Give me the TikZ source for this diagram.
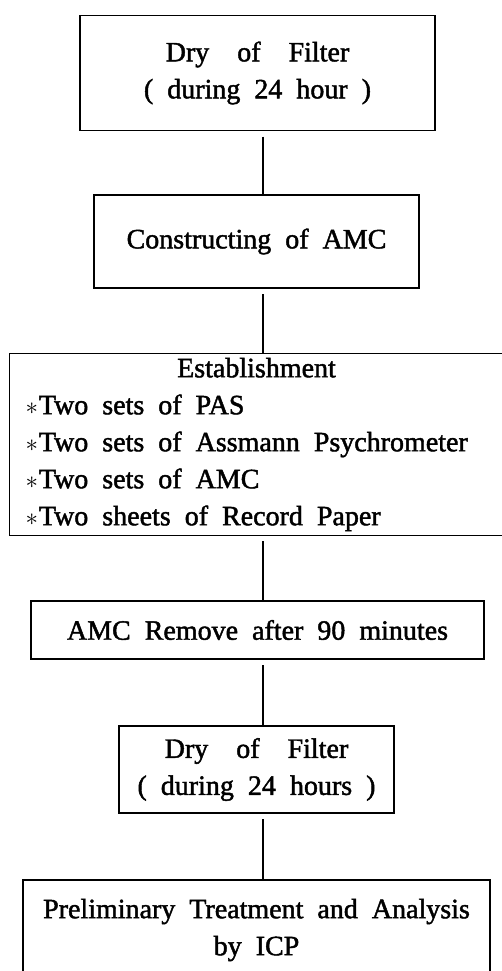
\documentclass[tikz,border=0pt]{standalone}
\usepackage{fontspec}
\setmainfont{Liberation Serif}[WordSpace=2,FakeBold=1.6]
\newcommand{\starmark}{{\fontsize{24}{37}\selectfont$\ast$}\kern1pt}

\begin{document}
\begin{tikzpicture}[x=1pt,y=-1pt]
    \tikzstyle{box_style} = [draw=black,line width=1.3pt,inner sep=0pt,align=center,font=\fontsize{28}{37}\selectfont]
    \tikzstyle{edge_style} = [draw=black,line width=1.8pt,shorten <=5.5pt]
        \useasboundingbox (0,0) rectangle (501,971);
        \coordinate (spine) at (263,0);
        \node[box_style,minimum width=355pt,minimum height=115pt] (dry1) at (257.5,73) {Dry\quad of\quad Filter\\( during 24 hour )};
        \node[box_style,minimum width=325pt,minimum height=93pt] (amc) at (256.5,241.5) {Constructing of AMC};
        \node[box_style,align=flush left,text width=462pt,inner xsep=16pt,inner ysep=4pt] (est) at (256.5,444.5) {\makebox[\linewidth]{Establishment}\\
            \starmark Two sets of PAS\\
            \starmark Two sets of Assmann Psychrometer\\
            \starmark Two sets of AMC\\
            \starmark Two sheets of Record Paper};
        \node[box_style,minimum width=453pt,minimum height=58pt] (remove) at (257.5,630) {AMC Remove after 90 minutes};
        \node[box_style,minimum width=275pt,minimum height=87pt] (dry2) at (256.5,769.5) {Dry\quad of\quad Filter\\( during 24 hours )};
        \node[box_style,minimum width=467pt,minimum height=100pt] (icp) at (256.5,930) {Preliminary Treatment and Analysis\\by ICP};
        \draw[edge_style] (dry1.south -| spine) edge (amc.north -| spine);
        \draw[edge_style] (amc.south -| spine) edge (est.north -| spine);
        \draw[edge_style] (est.south -| spine) edge (remove.north -| spine);
        \draw[edge_style] (remove.south -| spine) edge (dry2.north -| spine);
        \draw[edge_style] (dry2.south -| spine) edge (icp.north -| spine);
\end{tikzpicture}
\end{document}
